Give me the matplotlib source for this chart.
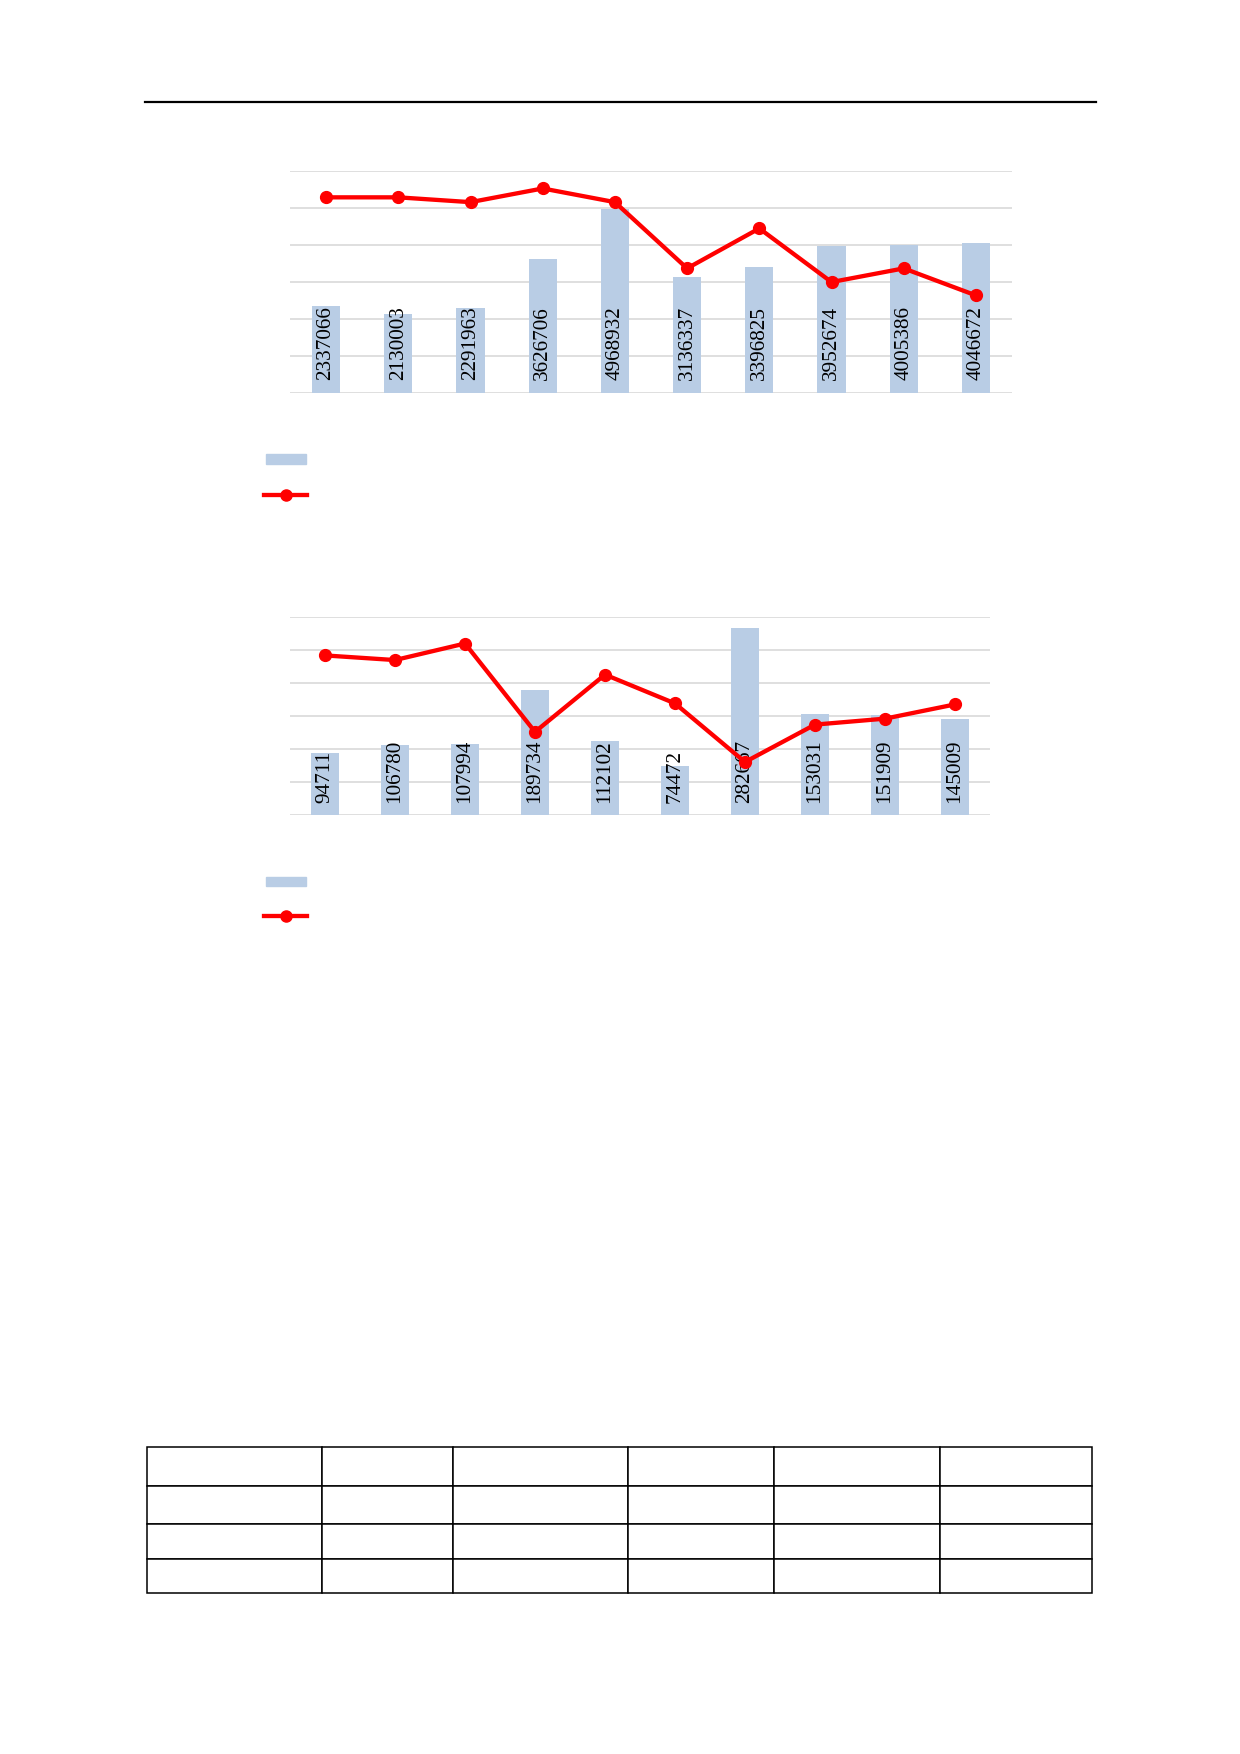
import numpy as np
import matplotlib
matplotlib.use("Agg")
import matplotlib.pyplot as plt
from matplotlib.lines import Line2D
from matplotlib.patches import Rectangle

# chart 1 (top)
vals1 = [2337066, 2130003, 2291963, 3626706, 4968932, 3136337, 3396825, 3952674, 4005386, 4046672]
rate1 = [52.8, 52.8, 51.5, 55.2, 51.5, 33.6, 44.4, 29.9, 33.6, 26.3]

# chart 2 (middle)
vals2 = [94711, 106780, 107994, 189734, 112102, 74472, 282667, 153031, 151909, 145009]
rate2 = [48.3, 46.9, 51.9, 25.2, 42.5, 33.8, 16.1, 27.4, 29.2, 33.5]

# table below: 4 rows x 6 columns, cells are empty
col_w = [175, 131, 175, 146, 166, 152]
row_h = [39, 38, 35, 34]

W, H = 1240, 1754
BAR = "#B9CDE5"
RED = "#FF0000"
GRID = "#D9D9D9"
serif = ["Liberation Serif", "DejaVu Serif"]

fig = plt.figure(figsize=(W / 100, H / 100), dpi=100)


def px_box(x0, y0, x1, y1):
    # pixel box (top-left origin) -> figure fraction rect
    return [x0 / W, 1 - y1 / H, (x1 - x0) / W, (y1 - y0) / H]


def combo(rect, vals, rates, ymax, step):
    ax = fig.add_axes(rect)
    x = np.arange(len(vals))
    ax.bar(x, vals, width=0.39, color=BAR, zorder=2)
    ax.set_xlim(-0.5, len(vals) - 0.5)
    ax.set_ylim(0, ymax)
    ax.set_yticks(np.arange(0, ymax + 1, step))
    ax.set_axisbelow(True)
    ax.grid(axis="y", color=GRID, lw=1.2)
    for s in ax.spines.values():
        s.set_visible(False)
    for xi, v in zip(x, vals):
        ax.annotate(str(v), (xi, 0), xytext=(0, 9), textcoords="offset points",
                    rotation=90, ha="center", va="bottom", fontsize=15.3,
                    family=serif, color="black", zorder=3)
    ax2 = ax.twinx()
    ax2.plot(x, rates, color=RED, lw=3.1, marker="o", ms=8.5, zorder=4)
    ax2.set_ylim(0, 60)
    ax2.axis("off")
    # twinx turns the left ticks back on, so hide them afterwards
    ax.tick_params(left=False, right=False, bottom=False,
                   labelleft=False, labelbottom=False)
    return ax


def legend_keys(y_patch, y_line):
    fig.patches.append(Rectangle((266 / W, 1 - y_patch[1] / H), 40 / W,
                                 (y_patch[1] - y_patch[0]) / H,
                                 transform=fig.transFigure, color=BAR))
    fig.lines.append(Line2D([264 / W, 307 / W], [1 - y_line / H] * 2,
                            transform=fig.transFigure, color=RED, lw=3.1))
    fig.lines.append(Line2D([285.5 / W], [1 - y_line / H], transform=fig.transFigure,
                            color=RED, marker="o", ms=8, lw=0))


combo(px_box(290, 170.7, 1012, 392.7), vals1, rate1, 6000000, 1000000)
legend_keys((454, 464), 494.5)

combo(px_box(290, 616.7, 990, 815.3), vals2, rate2, 300000, 50000)
legend_keys((877, 886), 916)

# header rule
fig.lines.append(Line2D([145 / W, 1096 / W], [1 - 102 / H] * 2,
                        transform=fig.transFigure, color="black", lw=1.6))

# empty table
tx0, ty0 = 147, 1447
tab_ax = fig.add_axes(px_box(tx0, ty0, tx0 + sum(col_w), ty0 + sum(row_h)))
tab_ax.axis("off")
tbl = tab_ax.table(cellText=[[""] * len(col_w) for _ in row_h],
                   colWidths=[w / sum(col_w) for w in col_w],
                   bbox=[0, 0, 1, 1])
for (r, c), cell in tbl.get_celld().items():
    cell.set_height(row_h[r] / sum(row_h))
    cell.set_edgecolor("black")
    cell.set_linewidth(1.1)

fig.savefig("out.png", dpi=100)
